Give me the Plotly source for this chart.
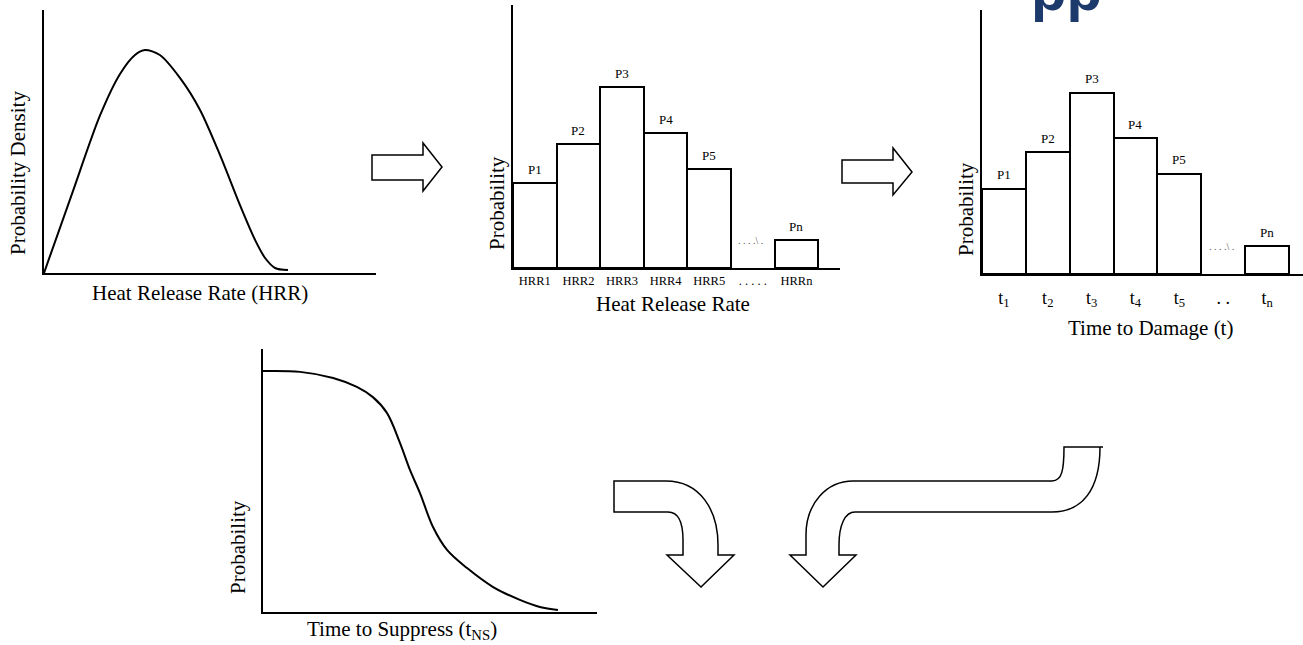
"""Fire damage probability flow: HRR density -> binned HRR -> time to damage,
with the non-suppression curve underneath."""

from plotly.graph_objs import Figure, Scatter, Bar

W = 1303
H = 645
SERIF = 'Liberation Serif'
NAVY = 'rgb(28, 58, 107)'

# HRR probability density (top left)
HRR_CURVE_X = [0.0, 0.84, 1.69, 2.29, 2.74, 3.04, 3.49, 4.10, 4.70,
               5.30, 5.90, 6.36, 6.66, 6.96, 7.35]
HRR_CURVE_Y = [0.0, 0.300, 0.600, 0.757, 0.829, 0.848, 0.829, 0.741,
               0.620, 0.449, 0.259, 0.125, 0.057, 0.019, 0.011]

# binned probabilities (slot 5 is the "....." gap)
BIN_SLOTS = [0, 1, 2, 3, 4, 6]
BIN_LABELS = ['P1', 'P2', 'P3', 'P4', 'P5', 'Pn']
HRR_BIN_PROB = [0.323, 0.471, 0.688, 0.513, 0.376, 0.106]
DAMAGE_BIN_PROB = [0.322, 0.462, 0.686, 0.515, 0.379, 0.106]
HRR_TICKS = ['HRR1', 'HRR2', 'HRR3', 'HRR4', 'HRR5', '. . . . .', 'HRRn']
TIME_TICKS = ['t<sub>1</sub>', 't<sub>2</sub>', 't<sub>3</sub>', 't<sub>4</sub>',
              't<sub>5</sub>', '. .', 't<sub>n</sub>']

# probability of non-suppression (bottom)
SUPPRESS_X = [0.0, 1.11, 2.10, 2.81, 3.29, 3.71, 4.10, 4.40, 4.70, 5.09,
              5.51, 6.11, 6.89, 7.69, 8.29, 8.83]
SUPPRESS_Y = [0.916, 0.913, 0.890, 0.856, 0.817, 0.757, 0.643, 0.540, 0.452,
              0.323, 0.236, 0.167, 0.095, 0.046, 0.019, 0.008]

# block arrows, in page pixels
ARROW_PATHS = [
    'M 372 155 L 423 155 L 423 143 L 442 167 L 423 191 L 423 180 L 372 180 Z',
    'M 842 160 L 893 160 L 893 148 L 912 172 L 893 195 L 893 183 L 842 183 Z',
    'M 614 481 L 666 481 C 700 481 718 510 718 545 L 718 555 L 734 555 '
    'L 701 587 L 667 555 L 683 555 L 683 540 C 683 522 678 512 668 512 '
    'L 614 512 Z',
    'M 823 587 L 790 555 L 806 555 L 806 535 C 806 503 827 481 853 481 '
    'L 1052 481 C 1062 481 1064 470 1064 447 L 1103 447 L 1100 447 '
    'C 1100 490 1082 512 1052 512 L 855 512 C 845 512 839 525 839 545 '
    'L 839 555 L 856 555 Z',
]


def x_dom(left, right):
    return [left / W, right / W]


def y_dom(bottom, top):
    return [1 - bottom / H, 1 - top / H]


def axis_style(**kw):
    base = dict(showgrid=False, zeroline=False, showline=True,
                linecolor='black', linewidth=2, ticks='',
                showticklabels=False, fixedrange=True)
    base.update(kw)
    return base


def label(text, x, y, size=21, angle=0, **kw):
    return dict(text=text, x=x / W, y=1 - y / H, xref='paper', yref='paper',
                showarrow=False, textangle=angle, xanchor='center',
                yanchor='middle',
                font=dict(family=SERIF, size=size, color='black'), **kw)


def bar_panel(fig, probs, ax):
    fig.add_trace(Bar(x=BIN_SLOTS, y=probs, width=1, xaxis='x' + ax,
                      yaxis='y' + ax,
                      marker=dict(color='white',
                                  line=dict(color='black', width=2))))
    notes = []
    for slot, p, name in zip(BIN_SLOTS, probs, BIN_LABELS):
        notes.append(dict(x=slot, y=p, xref='x' + ax, yref='y' + ax,
                          text=name, showarrow=False, yshift=14,
                          font=dict(family=SERIF, size=13, color='black')))
    notes.append(dict(x=5, y=probs[-1], xref='x' + ax, yref='y' + ax,
                      text='. . . .\\ .', showarrow=False, xshift=-2,
                      font=dict(family=SERIF, size=10, color='#555')))
    return notes


fig = Figure()

fig.add_trace(Scatter(x=HRR_CURVE_X, y=HRR_CURVE_Y, mode='lines',
                      line=dict(color='black', width=2, shape='spline',
                                smoothing=0.8),
                      xaxis='x', yaxis='y'))
fig.add_trace(Scatter(x=SUPPRESS_X, y=SUPPRESS_Y, mode='lines',
                      line=dict(color='black', width=2, shape='spline'),
                      xaxis='x4', yaxis='y4'))

annotations = bar_panel(fig, HRR_BIN_PROB, '2')
annotations += bar_panel(fig, DAMAGE_BIN_PROB, '3')

annotations += [
    label('Probability Density', 18, 173, angle=-90),
    label('Heat Release Rate (HRR)', 200, 293),
    label('Probability', 497, 203, angle=-90),
    label('Heat Release Rate', 673, 304),
    label('Probability', 966, 209, angle=-90),
    label('Time to Damage (t)', 1150, 328),
    label('Probability', 238, 547, angle=-90),
    label('Time to Suppress (t<sub>NS</sub>)', 402, 630),
    dict(text='<b>pp</b>', x=1066 / W, y=1 + 11 / H, xref='paper',
         yref='paper', showarrow=False, xanchor='center', yanchor='middle',
         font=dict(family='Liberation Sans', size=58, color=NAVY)),
]

shapes = [dict(type='path', path=p, xref='x5', yref='y5',
               fillcolor='white', line=dict(color='black', width=1.5))
          for p in ARROW_PATHS]

fig.update_layout(
    width=W, height=H, autosize=False, showlegend=False,
    margin=dict(l=0, r=0, t=0, b=0, pad=0),
    paper_bgcolor='white', plot_bgcolor='rgba(0,0,0,0)',
    font=dict(family=SERIF, color='black'),
    bargap=0,
    xaxis=axis_style(domain=x_dom(44, 376), range=[0, 10], anchor='y'),
    yaxis=axis_style(domain=y_dom(273, 10), range=[0, 1], anchor='x'),
    xaxis2=axis_style(domain=x_dom(513, 840), range=[-0.5, 7.0], anchor='y2',
                      showticklabels=True, tickvals=list(range(7)),
                      ticktext=HRR_TICKS, tickfont=dict(size=12.5)),
    yaxis2=axis_style(domain=y_dom(268, 5), range=[0, 1], anchor='x2'),
    xaxis3=axis_style(domain=x_dom(982, 1303), range=[-0.5, 6.82],
                      anchor='y3', showticklabels=True,
                      tickvals=list(range(7)), ticktext=TIME_TICKS,
                      tickfont=dict(size=18), ticklabelstandoff=6),
    yaxis3=axis_style(domain=y_dom(274, 10), range=[0, 1], anchor='x3'),
    xaxis4=axis_style(domain=x_dom(263, 597), range=[0, 10], anchor='y4'),
    yaxis4=axis_style(domain=y_dom(612, 349), range=[0, 1], anchor='x4'),
    xaxis5=dict(domain=[0, 1], range=[0, W], visible=False, anchor='y5',
                fixedrange=True),
    yaxis5=dict(domain=[0, 1], range=[H, 0], visible=False, anchor='x5',
                fixedrange=True),
    shapes=shapes,
    annotations=annotations,
)

# the page body keeps its default 8px margin otherwise
fig.write_html('out.html', config={'displayModeBar': False},
               post_script="document.body.style.margin='0';"
                           "document.body.style.overflow='hidden';")
